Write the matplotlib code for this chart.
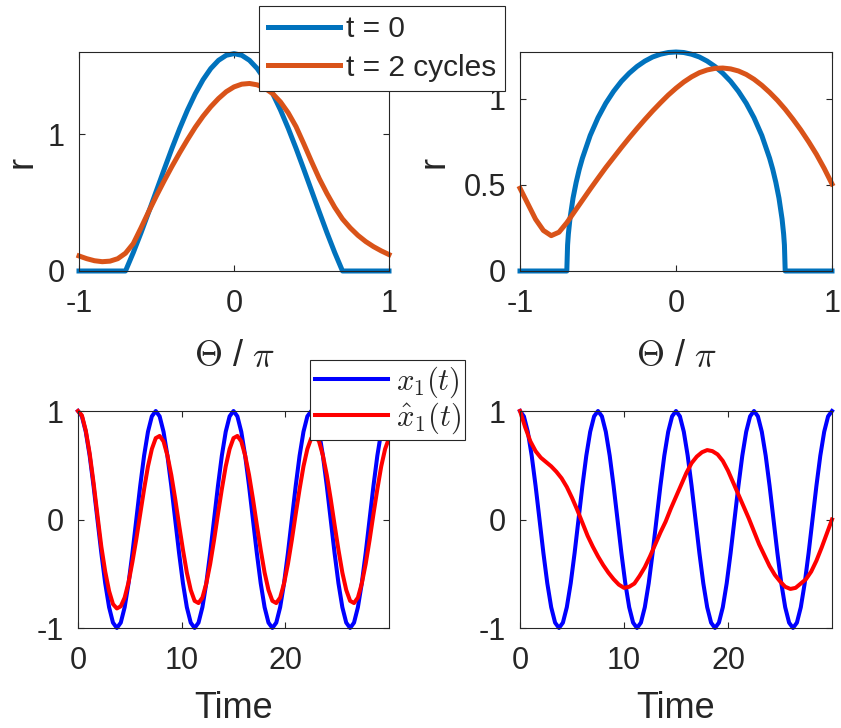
#!/usr/bin/env python3
"""
Four-panel figure: initial vs. evolved r(Theta) profiles (top) and
x1(t) against its estimate for two cases (bottom).
"""

import matplotlib

matplotlib.use("Agg")
import matplotlib.pyplot as plt
import numpy as np

# ---- top-left panel: r vs Theta/pi ----
theta_tl = np.round(np.linspace(-1, 1, 41), 3)
r_tl_t0 = [0, 0, 0, 0, 0, 0, 0, 0.134, 0.279, 0.432, 0.588, 0.744, 0.897,
           1.042, 1.176, 1.295, 1.397, 1.479, 1.539, 1.576, 1.588, 1.576,
           1.539, 1.479, 1.397, 1.295, 1.176, 1.042, 0.897, 0.744, 0.588,
           0.432, 0.279, 0.134, 0, 0, 0, 0, 0, 0, 0]
r_tl_t2 = [0.11, 0.09, 0.075, 0.068, 0.072, 0.09, 0.13, 0.20, 0.315, 0.435,
           0.55, 0.66, 0.765, 0.865, 0.96, 1.05, 1.13, 1.20, 1.26, 1.31,
           1.345, 1.365, 1.37, 1.36, 1.335, 1.295, 1.235, 1.155, 1.055, 0.93,
           0.80, 0.675, 0.565, 0.465, 0.38, 0.315, 0.26, 0.215, 0.178, 0.147,
           0.12]

# ---- top-right panel ----
theta_tr_t0 = [-1, -0.9, -0.8, -0.7, -0.695, -0.69, -0.68, -0.66, -0.64,
               -0.62, -0.6, -0.55, -0.5, -0.45, -0.4, -0.35, -0.3, -0.25,
               -0.2, -0.15, -0.1, -0.05, 0, 0.05, 0.1, 0.15, 0.2, 0.25, 0.3,
               0.35, 0.4, 0.45, 0.5, 0.55, 0.6, 0.62, 0.64, 0.66, 0.68, 0.69,
               0.695, 0.7, 0.8, 0.9, 1]
r_tr_t0 = [0, 0, 0, 0, 0.151, 0.214, 0.301, 0.423, 0.514, 0.590, 0.654,
           0.786, 0.889, 0.973, 1.042, 1.100, 1.147, 1.186, 1.217, 1.241,
           1.257, 1.267, 1.27, 1.267, 1.257, 1.241, 1.217, 1.186, 1.147,
           1.100, 1.042, 0.973, 0.889, 0.786, 0.654, 0.590, 0.514, 0.423,
           0.301, 0.214, 0.151, 0, 0, 0, 0]
theta_tr_t2 = np.round(np.linspace(-1, 1, 41), 3)
r_tr_t2 = [0.48, 0.39, 0.30, 0.235, 0.205, 0.225, 0.28, 0.345, 0.41, 0.475,
           0.538, 0.60, 0.658, 0.716, 0.772, 0.826, 0.878, 0.928, 0.975, 1.02,
           1.06, 1.096, 1.126, 1.15, 1.166, 1.175, 1.177, 1.172, 1.16, 1.14,
           1.112, 1.077, 1.036, 0.99, 0.938, 0.88, 0.818, 0.75, 0.677, 0.595,
           0.505]

# ---- bottom panels: time series ----
time_x = np.linspace(0, 30, 81)
x1 = [1, 0.951, 0.809, 0.588, 0.309, 0, -0.309, -0.588, -0.809, -0.951,
      -1, -0.951, -0.809, -0.588, -0.309, 0, 0.309, 0.588, 0.809, 0.951,
      1, 0.951, 0.809, 0.588, 0.309, 0, -0.309, -0.588, -0.809, -0.951,
      -1, -0.951, -0.809, -0.588, -0.309, 0, 0.309, 0.588, 0.809, 0.951,
      1, 0.951, 0.809, 0.588, 0.309, 0, -0.309, -0.588, -0.809, -0.951,
      -1, -0.951, -0.809, -0.588, -0.309, 0, 0.309, 0.588, 0.809, 0.951,
      1, 0.951, 0.809, 0.588, 0.309, 0, -0.309, -0.588, -0.809, -0.951,
      -1, -0.951, -0.809, -0.588, -0.309, 0, 0.309, 0.588, 0.809, 0.951,
      1]
x1_hat_left = [1.00, 0.96, 0.82, 0.61, 0.34, 0.04, -0.25, -0.48, -0.66, -0.78,
               -0.82, -0.80, -0.72, -0.58, -0.39, -0.18, 0.05, 0.28, 0.49, 0.65,
               0.75, 0.77, 0.72, 0.59, 0.41, 0.19, -0.05, -0.28, -0.49, -0.65,
               -0.75, -0.77, -0.72, -0.59, -0.41, -0.19, 0.05, 0.28, 0.49, 0.65,
               0.75, 0.77, 0.72, 0.59, 0.41, 0.19, -0.05, -0.28, -0.49, -0.65,
               -0.75, -0.77, -0.72, -0.59, -0.41, -0.19, 0.05, 0.28, 0.49, 0.65,
               0.75, 0.77, 0.72, 0.59, 0.41, 0.19, -0.05, -0.28, -0.49, -0.65,
               -0.75, -0.77, -0.72, -0.59, -0.41, -0.19, 0.05, 0.28, 0.49, 0.65,
               0.75]
time_hat_right = np.linspace(0, 30, 61)
x1_hat_right = [1.00, 0.85, 0.72, 0.63, 0.57, 0.53, 0.49, 0.44, 0.38, 0.30,
                0.20, 0.09, -0.03, -0.15, -0.25, -0.34, -0.42, -0.49, -0.55,
                -0.60, -0.63, -0.62, -0.59, -0.52, -0.44, -0.34, -0.23, -0.12,
                -0.02, 0.10, 0.21, 0.32, 0.43, 0.52, 0.58, 0.62, 0.64, 0.63,
                0.60, 0.54, 0.45, 0.34, 0.23, 0.12, 0.01, -0.11, -0.23, -0.33,
                -0.43, -0.51, -0.57, -0.62, -0.64, -0.63, -0.59, -0.55, -0.48,
                -0.38, -0.26, -0.13, 0.00]

DARK = "#262626"
BLUE_M, ORANGE_M = "#0072BD", "#D95319"

plt.rcParams.update({
    "font.family": ["Liberation Sans", "DejaVu Sans"],
    "mathtext.fontset": "cm",
    "axes.unicode_minus": False,
    "text.color": DARK,
    "axes.edgecolor": DARK,
    "axes.labelcolor": DARK,
    "xtick.color": DARK,
    "ytick.color": DARK,
    "axes.linewidth": 0.8,
    "xtick.direction": "in",
    "ytick.direction": "in",
    "xtick.top": True,
    "ytick.right": True,
    "xtick.major.size": 4,
    "ytick.major.size": 4,
    "xtick.major.pad": 13,
    "ytick.major.pad": 10,
    "xtick.labelsize": 22,
    "ytick.labelsize": 22,
})

W, H = 841, 728


def axes_box(x0, x1_, y0, y1):
    """Pixel box (left, right, top, bottom) -> figure fraction rect."""
    return [x0 / W, 1 - y1 / H, (x1_ - x0) / W, (y1 - y0) / H]


def style_legend(leg):
    frame = leg.get_frame()
    frame.set_linewidth(0.8)
    frame.set_edgecolor(DARK)


fig = plt.figure(figsize=(W / 100, H / 100), dpi=100)

ax_tl = fig.add_axes(axes_box(79, 389, 52, 271))
ax_tr = fig.add_axes(axes_box(520, 832, 52, 271))
ax_bl = fig.add_axes(axes_box(78, 389, 411, 628))
ax_br = fig.add_axes(axes_box(520, 832, 411, 628))
ax_tl.set_zorder(3)
ax_bl.set_zorder(3)

# top panels
ax_tl.plot(theta_tl, r_tl_t0, color=BLUE_M, lw=3.6, label="t = 0", clip_on=False)
ax_tl.plot(theta_tl, r_tl_t2, color=ORANGE_M, lw=3.6, label="t = 2 cycles", clip_on=False)
ax_tr.plot(theta_tr_t0, r_tr_t0, color=BLUE_M, lw=3.6, clip_on=False)
ax_tr.plot(theta_tr_t2, r_tr_t2, color=ORANGE_M, lw=3.6, clip_on=False)

ax_tl.set_ylim(0, 1.6)
ax_tl.set_yticks([0, 1])
ax_tl.set_yticklabels(["0", "1"])
ax_tr.set_ylim(0, 1.27)
ax_tr.set_yticks([0, 0.5, 1])
ax_tr.set_yticklabels(["0", "0.5", "1"])

for ax, xr in [(ax_tl, -0.129), (ax_tr, -0.218)]:
    ax.set_xlim(-1, 1)
    ax.set_xticks([-1, 0, 1])
    ax.set_xticklabels(["-1", "0", "1"])
    ax.set_xlabel(r"$\Theta$ / $\pi$", fontsize=26)
    ax.xaxis.set_label_coords(0.5, -0.31)
    ax.set_ylabel("r", fontsize=26)
    ax.yaxis.set_label_coords(xr, 0.5)

leg = ax_tl.legend(loc="upper left", bbox_to_anchor=(259 / W, 1 - 6 / H),
                   bbox_transform=fig.transFigure, borderaxespad=0,
                   fancybox=False, framealpha=1, fontsize=21.5,
                   handlelength=2.4, handletextpad=0.2, borderpad=0.3,
                   labelspacing=0.36)
style_legend(leg)

# bottom panels
ax_bl.plot(time_x, x1, color="#0000FF", lw=2.9, label=r"$x_1(t)$", clip_on=False)
ax_bl.plot(time_x, x1_hat_left, color="#FF0000", lw=2.9, label=r"$\hat{x}_1(t)$", clip_on=False)
ax_br.plot(time_x, x1, color="#0000FF", lw=2.9, clip_on=False)
ax_br.plot(time_hat_right, x1_hat_right, color="#FF0000", lw=2.9, clip_on=False)

for ax in (ax_bl, ax_br):
    ax.set_xlim(0, 30)
    ax.set_ylim(-1, 1)
    ax.set_xticks([0, 10, 20])
    ax.set_xticklabels(["0", "10", "20"])
    ax.set_yticks([-1, 0, 1])
    ax.set_yticklabels(["-1", "0", "1"])
    ax.set_xlabel("Time", fontsize=26)
    ax.xaxis.set_label_coords(0.5, -0.29)

leg = ax_bl.legend(loc="upper left", bbox_to_anchor=(310 / W, 1 - 360 / H),
                   bbox_transform=fig.transFigure, borderaxespad=0,
                   fancybox=False, framealpha=1, fontsize=22,
                   handlelength=2.4, handletextpad=0.25, borderpad=0.15,
                   labelspacing=0.0)
style_legend(leg)

fig.savefig("out.png", dpi=100)
